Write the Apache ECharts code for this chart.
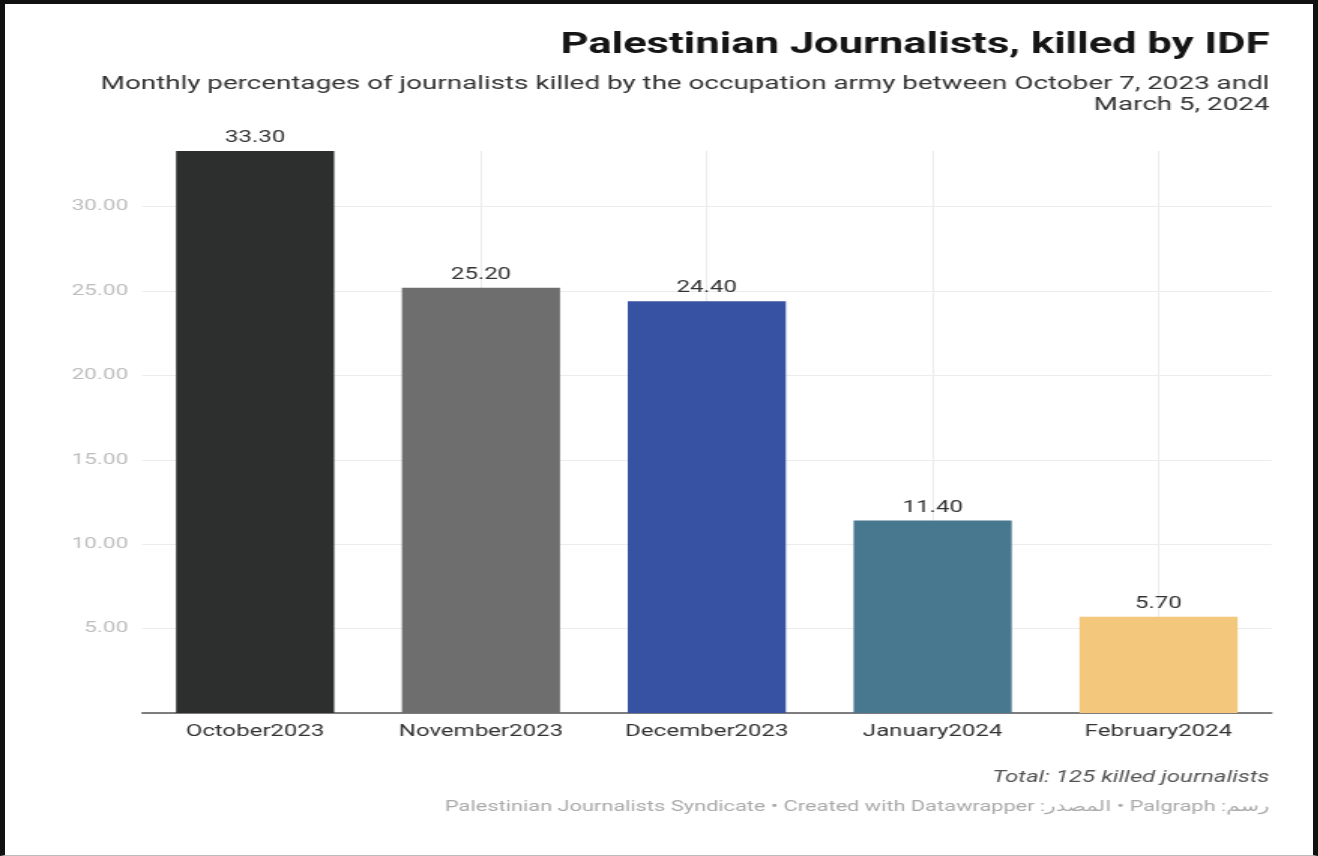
<!DOCTYPE html>
<html>
<head>
<meta charset="utf-8">
<script src="https://cdn.jsdelivr.net/npm/echarts@6/dist/echarts.min.js"></script>
<style>
  html, body { margin: 0; padding: 0; background: #fff; }
  #wrap { position: relative; width: 1318px; height: 856px; overflow: hidden; background: #fff; }
  #chart { position: absolute; left: 0; top: 0; height: 856px; transform-origin: 0 0; }
  #frame { position: absolute; left: 0; top: 0; width: 1318px; height: 856px; box-sizing: border-box;
           border-left: 5px solid #111; border-top: 4px solid #111; border-right: 5px solid #111;
           border-bottom: 1px solid #bbb; pointer-events: none; }
</style>
</head>
<body>
<div id="wrap">
  <div id="chart"></div>
  <div id="frame"></div>
</div>
<script>
// Monthly share of journalists killed
const categories = ['October2023', 'November2023', 'December2023', 'January2024', 'February2024'];
const values = [33.3, 25.2, 24.4, 11.4, 5.7];
const barColors = ['#2d2f2e', '#6e6e6e', '#3752a3', '#47788f', '#f3c87d'];
const yTicks = { min: 0, max: 33.3, interval: 5 };

const titleText = 'Palestinian Journalists, killed by IDF';
const subtitleLines = [
  'Monthly percentages of journalists killed by the occupation army between October 7, 2023 andl',
  'March 5, 2024'
];
const totalText = 'Total: 125 killed journalists';
const sourceText = 'Palestinian Journalists Syndicate \u2022 Created with Datawrapper :\u0627\u0644\u0645\u0635\u062f\u0631 \u2022 Palgraph :\u0631\u0633\u0645';

// The canvas is drawn narrower and widened horizontally with CSS.
const STRETCH = 1.5;
const W = 1318 / STRETCH;
const px = x => x / STRETCH;

const el = document.getElementById('chart');
el.style.width = W + 'px';
el.style.transform = 'scaleX(' + STRETCH + ')';

const FONT = 'Roboto, "DejaVu Sans", sans-serif';
const chart = echarts.init(el, null, { renderer: 'canvas', width: W, height: 856 });

// Horizontal grid lines at every 5, none at the top of the axis
const splitColors = [];
for (let v = yTicks.min; v < yTicks.max; v += yTicks.interval) splitColors.push('#ececec');
splitColors.push('rgba(0,0,0,0)');

const RIGHT = px(50);

chart.setOption({
  animation: false,
  backgroundColor: '#fff',
  title: [
    { text: titleText, right: RIGHT, top: 31, padding: 0,
      textStyle: { fontFamily: FONT, fontSize: 29, fontWeight: 'bold', color: '#151515' } },
    { text: subtitleLines[0], right: RIGHT, top: 75, padding: 0,
      textStyle: { fontFamily: FONT, fontSize: 18.5, fontWeight: 'normal', color: '#333' } },
    { text: subtitleLines[1], right: RIGHT, top: 96, padding: 0,
      textStyle: { fontFamily: FONT, fontSize: 18.5, fontWeight: 'normal', color: '#333' } },
    { text: totalText, right: RIGHT, top: 770, padding: 0,
      textStyle: { fontFamily: FONT, fontSize: 16, fontStyle: 'italic', fontWeight: 'normal', color: '#555' } },
    { text: sourceText, right: RIGHT, top: 800, padding: 0,
      textStyle: { fontFamily: FONT, fontSize: 14.5, fontWeight: 'normal', color: '#aaa' } }
  ],
  grid: { left: px(142), right: W - px(1270), top: 151, bottom: 856 - 713, containLabel: false },
  xAxis: {
    type: 'category',
    data: categories,
    axisLine: { show: true, lineStyle: { color: '#555', width: 1.5 } },
    axisTick: { show: false },
    axisLabel: { color: '#333', fontFamily: FONT, fontSize: 16, margin: 11 },
    splitLine: { show: false }
  },
  yAxis: {
    type: 'value',
    min: yTicks.min,
    max: yTicks.max,
    interval: yTicks.interval,
    axisLine: { show: false },
    axisTick: { show: false },
    axisLabel: { color: '#bdbdbd', fontFamily: FONT, fontSize: 15, margin: px(14),
      showMinLabel: false, showMaxLabel: false, formatter: v => v.toFixed(2) },
    splitLine: { show: true, lineStyle: { color: splitColors, width: 1 } }
  },
  series: [{
    type: 'bar',
    z: 2,
    barWidth: '70%',
    data: values.map((v, i) => ({ value: v, itemStyle: { color: barColors[i] } })),
    label: { show: true, position: 'top', distance: 5, color: '#333', fontFamily: FONT, fontSize: 16,
      formatter: p => p.value.toFixed(2) },
    // vertical guides through the category centres, drawn behind the bars
    markLine: {
      silent: true, z: 1, symbol: 'none', label: { show: false },
      lineStyle: { color: '#ececec', width: 1, type: 'solid' },
      data: categories.map(c => ({ xAxis: c }))
    }
  }]
});
</script>
</body>
</html>
